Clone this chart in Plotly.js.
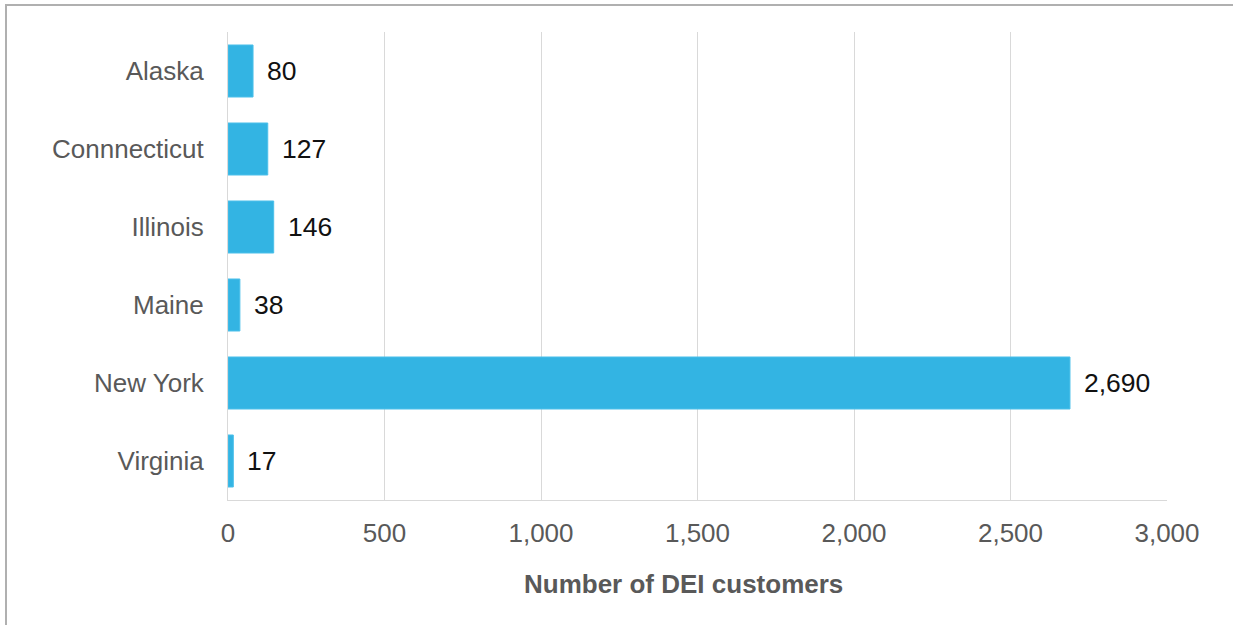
<!DOCTYPE html>
<html>
<head>
<meta charset="utf-8">
<script src="https://cdn.plot.ly/plotly-3.0.1.min.js"></script>
<style>
html,body{margin:0;padding:0;background:#fff;}
#chart{width:1233px;height:625px;}
#frame{position:absolute;left:5px;top:4px;width:1240px;height:640px;border-top:2px solid #b0b0b0;border-left:2px solid #b0b0b0;pointer-events:none;}
</style>
</head>
<body>
<div id="chart"></div>
<div id="frame"></div>
<script>
const states = ["Alaska", "Connnecticut", "Illinois", "Maine", "New York", "Virginia"];
const customers = [80, 127, 146, 38, 2690, 17];
const xTickVals = [0, 500, 1000, 1500, 2000, 2500, 3000];
const xTickText = ["0", "500", "1,000", "1,500", "2,000", "2,500", "3,000"];
const xTitle = "Number of DEI customers";

const labelText = customers.map(v => v.toLocaleString("en-US"));

const trace = {
  type: "bar",
  orientation: "h",
  x: customers,
  y: states,
  marker: {color: "#33b4e3", line: {color: "#4cc0ea", width: 1}},
  hoverinfo: "x+y"
};

const annotations = customers.map((v, i) => ({
  x: v, y: states[i], xref: "x", yref: "y",
  text: labelText[i], showarrow: false,
  xanchor: "left", yanchor: "middle", xshift: 12,
  font: {family: "Liberation Sans, Arial, sans-serif", size: 26.5, color: "#111"}
}));

annotations.push({
  xref: "paper", yref: "paper", x: 0.4846, y: -0.179,
  xanchor: "center", yanchor: "middle", showarrow: false,
  text: "<b>" + xTitle + "</b>",
  font: {family: "Liberation Sans, Arial, sans-serif", size: 26, color: "#595959"}
});

const layout = {
  width: 1233, height: 625,
  margin: {l: 228, r: 66, t: 32, b: 125},
  paper_bgcolor: "#fff", plot_bgcolor: "#fff",
  bargap: 0.333,
  showlegend: false,
  font: {family: "Liberation Sans, Arial, sans-serif", size: 26, color: "#595959"},
  xaxis: {
    range: [0, 3000],
    tickvals: xTickVals, ticktext: xTickText,
    showgrid: true, gridcolor: "#d9d9d9", gridwidth: 1,
    zeroline: false,
    showline: true, linecolor: "#d9d9d9", linewidth: 1, mirror: false,
    ticks: "", ticklabelstandoff: 10,
    tickfont: {size: 26, color: "#595959"}
  },
  yaxis: {
    autorange: "reversed",
    showgrid: false, zeroline: false,
    showline: true, linecolor: "#d9d9d9", linewidth: 1,
    ticks: "", ticklabelstandoff: 18,
    tickfont: {size: 26, color: "#595959"}
  },
  annotations: annotations
};

Plotly.newPlot("chart", [trace], layout, {displayModeBar: false, staticPlot: true});
</script>
</body>
</html>
